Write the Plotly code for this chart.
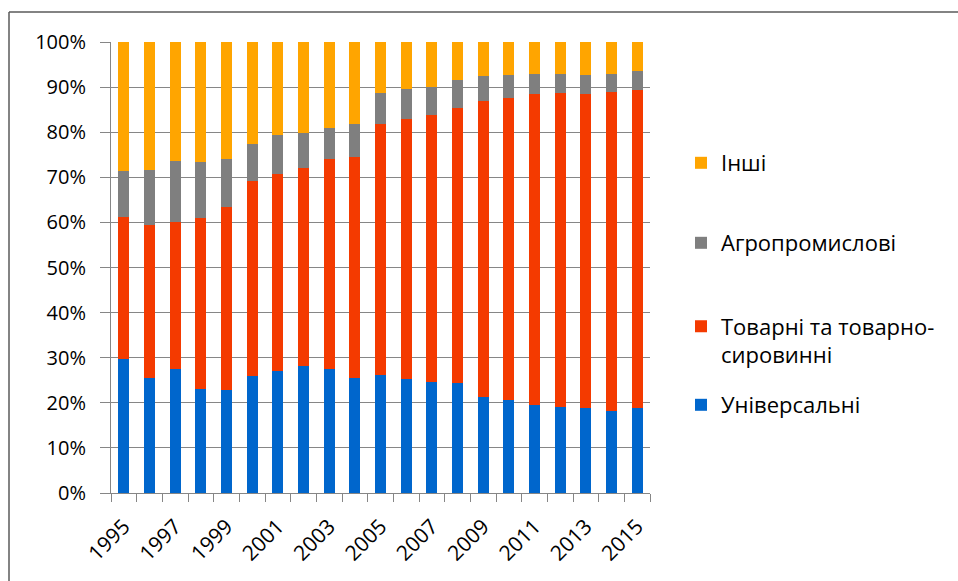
import plotly.graph_objects as go

years = [str(y) for y in range(1995, 2016)]
tick_labels = [y if int(y) % 2 == 1 else "" for y in years]

# shares, %
universal = [29.8, 25.6, 27.6, 23.0, 22.8, 25.9, 27.0, 28.2, 27.4, 25.6, 26.1,
             25.3, 24.7, 24.5, 21.3, 20.7, 19.6, 19.0, 18.8, 18.2, 18.8]
commodity = [31.3, 33.8, 32.4, 37.9, 40.6, 43.2, 43.8, 43.8, 46.6, 48.9, 55.7,
             57.7, 59.1, 60.8, 65.7, 66.9, 68.9, 69.7, 69.7, 70.8, 70.5]
agro = [10.3, 12.3, 13.6, 12.5, 10.6, 8.2, 8.5, 7.9, 7.0, 7.3, 6.9,
        6.6, 6.2, 6.2, 5.4, 5.1, 4.5, 4.3, 4.2, 4.0, 4.2]
other = [28.6, 28.3, 26.4, 26.6, 26.0, 22.7, 20.7, 20.1, 19.0, 18.2, 11.3,
         10.4, 10.0, 8.5, 7.6, 7.3, 7.0, 7.0, 7.3, 7.0, 6.5]

names = ["Універсальні", "Товарні та товарно-<br>сировинні", "Агропромислові", "Інші"]
colors = ["#0066CC", "#F43A00", "#7F7F7F", "#FFA500"]
series = [universal, commodity, agro, other]
legends = ["legend4", "legend3", "legend2", "legend"]

FONT = "Open Sans"
FS = 20
XFS = 21
LFS = 22
fig = go.Figure()
for vals, nm, col, lg in zip(series, names, colors, legends):
    fig.add_trace(go.Bar(x=years, y=vals, name=nm, marker=dict(color=col, line=dict(width=0)),
                         legend=lg, showlegend=True))

W, H = 958, 581
def leg(ycenter, valign="middle"):
    return dict(xref="container", yref="container", x=681 / W, y=1 - ycenter / H,
                xanchor="left", yanchor="middle", bgcolor="rgba(0,0,0,0)",
                font=dict(family=FONT, size=LFS, color="#000000"),
                itemwidth=30, valign=valign, visible=True)

fig.update_layout(
    width=W, height=H,
    margin=dict(l=111, r=308, t=42, b=88, autoexpand=False),
    paper_bgcolor="white", plot_bgcolor="white",
    barmode="stack", bargap=0.58,
    showlegend=True,
    font=dict(family=FONT, size=FS, color="#000000"),
    legend=leg(163),
    legend2=leg(243),
    legend3=leg(341, "top"),
    legend4=leg(405),
    xaxis=dict(type="category", tickvals=years, ticktext=tick_labels, tickson="boundaries",
               ticks="outside", ticklen=8, tickcolor="#868686", tickwidth=1,
               showline=True, linecolor="#868686", linewidth=1, showgrid=False,
               tickangle=-45, ticklabelstandoff=12,
               tickfont=dict(family=FONT, size=XFS, color="#000000")),
    yaxis=dict(range=[0, 100], dtick=10, ticksuffix="%", ticks="outside", ticklen=10,
               tickcolor="#868686", showline=True, linecolor="#868686", linewidth=1,
               gridcolor="#868686", gridwidth=1, zeroline=False, ticklabelstandoff=10,
               tickfont=dict(family=FONT, size=FS, color="#000000")),
    shapes=[
        dict(type="line", xref="paper", yref="paper", x0=(9 - 111) / 539, x1=(958 - 111) / 539,
             y0=(493 - 12) / 451, y1=(493 - 12) / 451, line=dict(color="#5a5a5a", width=1.5)),
        dict(type="line", xref="paper", yref="paper", x0=(9 - 111) / 539, x1=(9 - 111) / 539,
             y0=(493 - 12) / 451, y1=(493 - 585) / 451, line=dict(color="#5a5a5a", width=1.5)),
    ],
)

fig.write_html("out.html", config={"displayModeBar": False},
               post_script="document.body.style.margin='0';document.body.style.overflow='hidden';")
